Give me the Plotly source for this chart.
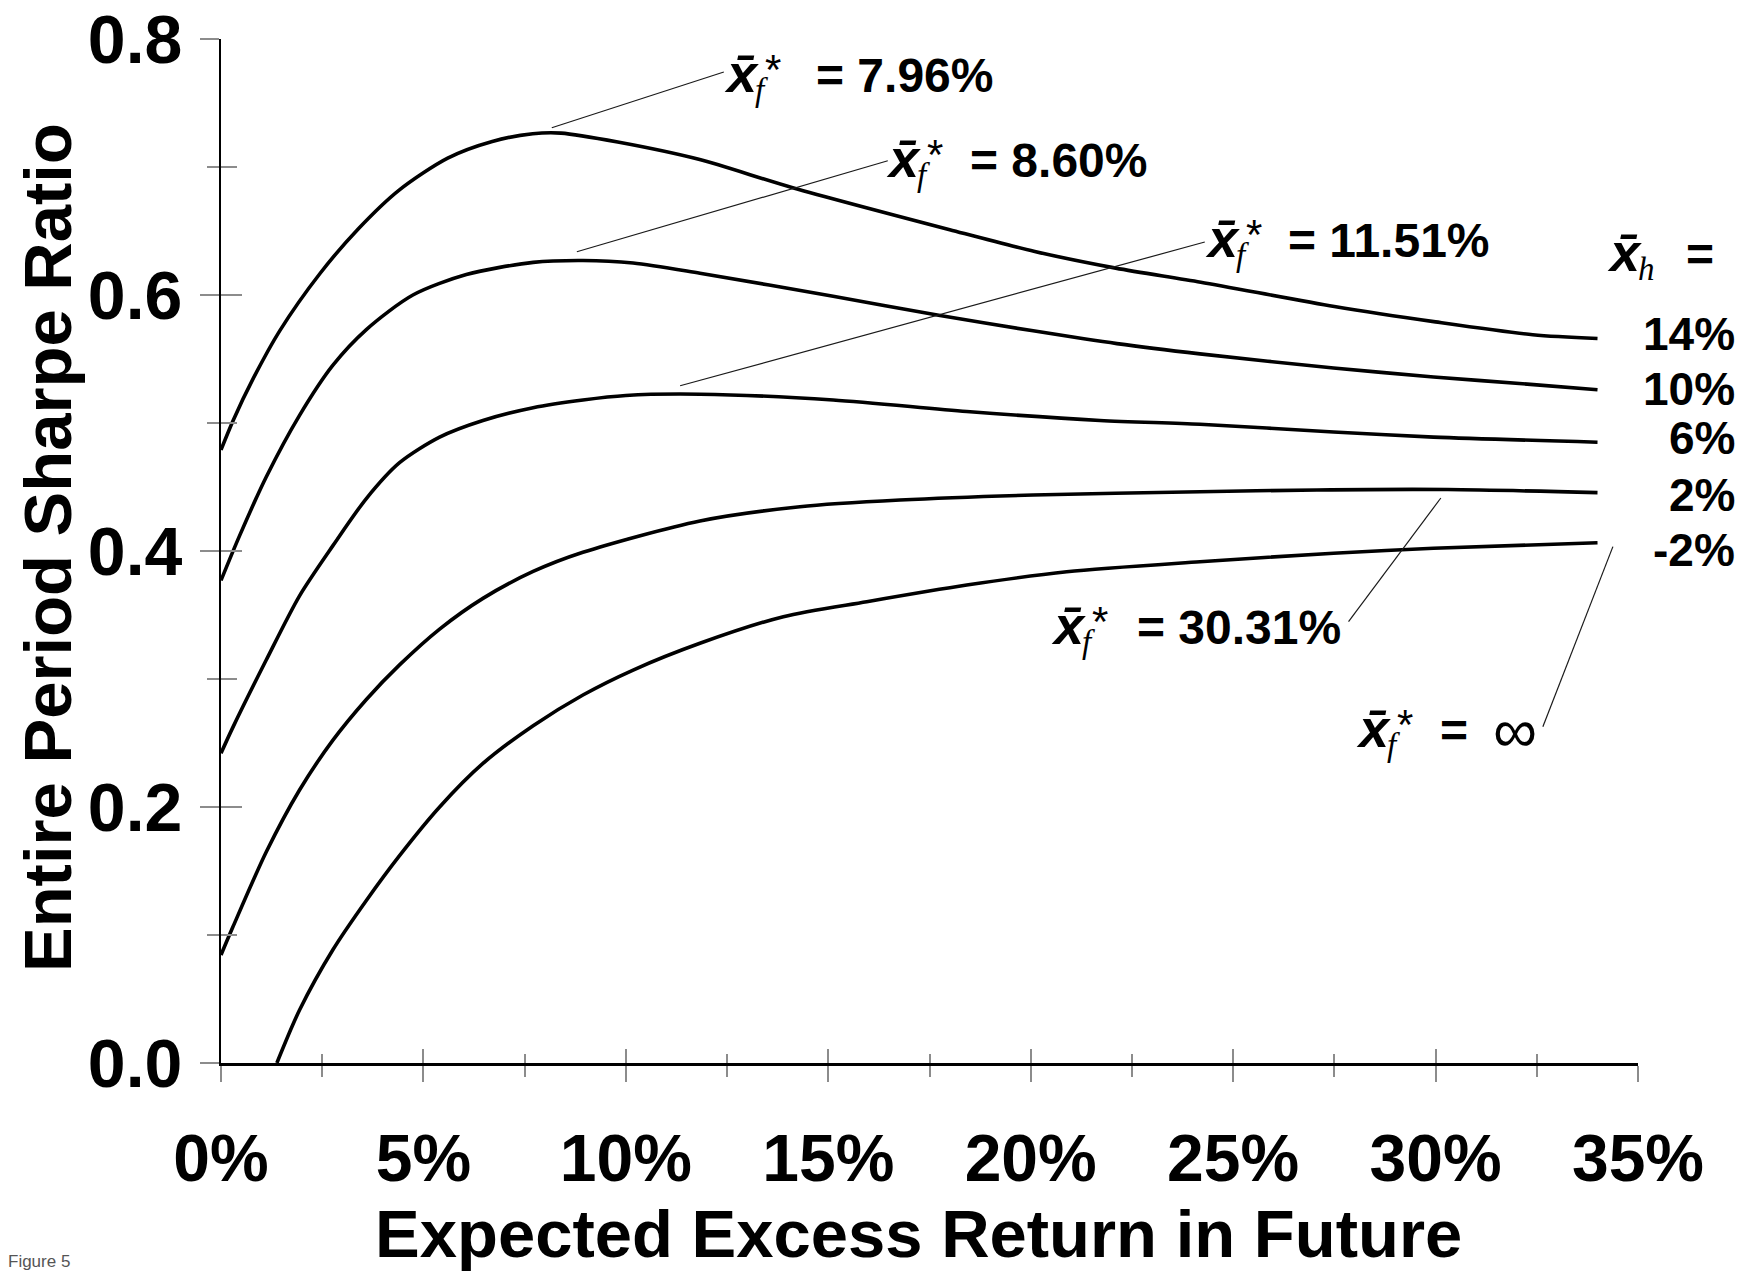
import plotly.graph_objects as go

# Historical mean excess return (x̄_h, %) labelling each curve
hist_means = [14, 10, 6, 2, -2]

# Expected excess return in future (%) and entire-period Sharpe ratio, one pair per curve
x_h14 = [0, 0.3, 0.8, 1.45, 2.45, 3.4, 4.4, 5.6, 6.7, 7.7, 8.4, 9.8, 11.8, 14.1, 18.0, 20.1, 22.1, 24.2, 27.5, 30.0, 32.4, 34.0]
sr_h14 = [0.479, 0.502, 0.535, 0.572, 0.617, 0.652, 0.682, 0.707, 0.720, 0.726, 0.7265, 0.7195, 0.706, 0.684, 0.651, 0.634, 0.621, 0.610, 0.591, 0.579, 0.569, 0.566]

x_h10 = [0, 0.46, 1.12, 1.94, 2.76, 3.59, 4.74, 6.06, 7.71, 8.94, 10.18, 11.83, 15.12, 17.76, 20.06, 22.13, 24.18, 27.48, 29.95, 32.42, 34.0]
sr_h10 = [0.377, 0.412, 0.458, 0.506, 0.545, 0.573, 0.600, 0.616, 0.6255, 0.627, 0.625, 0.617, 0.599, 0.584, 0.572, 0.562, 0.554, 0.543, 0.536, 0.530, 0.526]

x_h6 = [0, 0.29, 1.12, 1.94, 2.76, 3.59, 4.41, 5.40, 6.47, 7.71, 8.94, 10.0, 11.83, 15.12, 18.42, 21.71, 24.18, 27.48, 29.95, 34.0]
sr_h6 = [0.242, 0.262, 0.315, 0.365, 0.404, 0.441, 0.469, 0.489, 0.502, 0.512, 0.518, 0.5215, 0.5225, 0.518, 0.509, 0.502, 0.499, 0.493, 0.489, 0.485]

x_h2 = [0, 0.29, 1.12, 1.94, 2.76, 3.59, 4.41, 5.40, 6.47, 7.71, 8.94, 11.83, 14.3, 16.77, 20.06, 24.18, 27.07, 30.3, 34.0]
sr_h2 = [0.0844, 0.106, 0.165, 0.2133, 0.252, 0.284, 0.311, 0.339, 0.363, 0.384, 0.399, 0.4235, 0.4346, 0.4398, 0.4437, 0.4463, 0.4477, 0.448, 0.4456]

x_hm2 = [1.38, 1.94, 2.76, 3.59, 4.41, 5.40, 6.47, 7.71, 8.94, 10.18, 11.83, 13.89, 15.95, 18.42, 20.89, 24.18, 27.48, 29.95, 34.0]
sr_hm2 = [0.0, 0.0414, 0.0883, 0.127, 0.162, 0.200, 0.234, 0.2635, 0.2875, 0.307, 0.3279, 0.3487, 0.3604, 0.3734, 0.3838, 0.3916, 0.3982, 0.4021, 0.4065]

curves_x = [x_h14, x_h10, x_h6, x_h2, x_hm2]
curves_y = [sr_h14, sr_h10, sr_h6, sr_h2, sr_hm2]

# Optimal future mean (x̄_f*) for each curve, with callout leader lines (data units)
optimum_text = ["7.96%", "8.60%", "11.51%", "30.31%", "\u221e"]
leader_x0 = [8.17, 8.79, 11.34, 30.13, 34.38]
leader_y0 = [0.7307, 0.6338, 0.5291, 0.4414, 0.4034]
leader_x1 = [12.42, 16.47, 24.30, 27.85, 32.65]
leader_y1 = [0.7742, 0.7049, 0.6414, 0.3448, 0.2627]

x_ticks = [0, 5, 10, 15, 20, 25, 30, 35]
y_ticks = [0.0, 0.2, 0.4, 0.6, 0.8]

SANS = "Liberation Sans, Arial, Helvetica, sans-serif"
SERIF = "Liberation Serif, Times New Roman, serif"
TICK_GREY = "#8c8c8c"

W, H = 1754, 1274
L, R, T, B = 221, 1638, 39, 1063
PW, PH = R - L, B - T


def px(X):
    return (X - L) / PW


def py(Y):
    return (B - Y) / PH


fig = go.Figure()

for xs, ys in zip(curves_x, curves_y):
    fig.add_trace(go.Scatter(
        x=xs, y=ys, mode="lines",
        line=dict(color="black", width=3.6, shape="spline", smoothing=0.8),
        showlegend=False, hoverinfo="skip",
    ))

# empty traces that bring up the overlay axes carrying the inner halves of the ticks
fig.add_trace(go.Scatter(x=[None], y=[None], xaxis="x2", yaxis="y", showlegend=False, hoverinfo="skip"))
fig.add_trace(go.Scatter(x=[None], y=[None], xaxis="x", yaxis="y2", showlegend=False, hoverinfo="skip"))

for x0, y0, x1, y1 in zip(leader_x0, leader_y0, leader_x1, leader_y1):
    fig.add_shape(type="line", xref="x", yref="y", x0=x0, y0=y0, x1=x1, y1=y1,
                  line=dict(color="#1a1a1a", width=1.2), layer="above")

annotations = []


def add_text(X, Y, text, size, family=SANS, weight="normal", style="normal", anchor="left"):
    annotations.append(dict(
        xref="paper", yref="paper", x=px(X), y=py(Y), text=text, showarrow=False,
        xanchor=anchor, yanchor="middle",
        font=dict(family=family, size=size, color="black", weight=weight, style=style),
    ))


def xbar_symbol(X, Ymid, sub, star=True):
    """Bold italic x with an overbar, an italic subscript and an optional starred superscript."""
    add_text(X, Ymid - 2, "x\u0304", 54, weight="bold", style="italic")
    add_text(X + 31, Ymid + 15, sub, 33, family=SERIF, style="italic")
    if star:
        add_text(X + 41, Ymid - 6, "*", 42)


# x̄_f* = value callouts: x̄ position, line mid-height and "=" position (pixels)
callout_pos = [(722, 75, 814), (884, 160, 968), (1203, 240, 1286), (1049, 627, 1135), (1354, 730, 1438)]
for (X, Y, Xeq), val in zip(callout_pos, optimum_text):
    xbar_symbol(X, Y, "f")
    if val == "\u221e":
        add_text(Xeq, Y, "=", 48, weight="bold")
        add_text(Xeq + 53, Y, val, 62)
    else:
        add_text(Xeq, Y, f"= {val}", 48, weight="bold")

# x̄_h = header above the per-curve labels
xbar_symbol(1605, 254, "h", star=False)
add_text(1684, 254, "=", 48, weight="bold")

label_shift = [5, 1, 4, -2, -7]
for hm, ys, dy in zip(hist_means, curves_y, label_shift):
    annotations.append(dict(
        xref="paper", yref="y", x=px(1737), y=ys[-1], yshift=dy,
        text=f"{hm}%", showarrow=False, xanchor="right", yanchor="middle",
        font=dict(family=SANS, size=46, color="black", weight="bold"),
    ))

# axis titles
add_text(918, 1233, "Expected Excess Return in Future", 67, weight="bold", anchor="center")
annotations.append(dict(
    xref="paper", yref="paper", x=px(47), y=py(548), text="Entire Period Sharpe Ratio",
    showarrow=False, xanchor="center", yanchor="middle", textangle=-90,
    font=dict(family=SANS, size=67, color="black", weight="bold"),
))

annotations.append(dict(
    xref="paper", yref="paper", x=px(6), y=py(1261), text="Figure 5", showarrow=False,
    xanchor="left", yanchor="middle", font=dict(family=SANS, size=17, color="#555555"),
))

axis_common = dict(showgrid=False, zeroline=False, automargin=False)

fig.update_layout(
    template="none",
    width=W, height=H,
    margin=dict(l=L, r=W - R, t=T, b=H - B, pad=0, autoexpand=False),
    paper_bgcolor="white", plot_bgcolor="white",
    showlegend=False,
    annotations=annotations,
    xaxis=dict(
        range=[0, 35], tickvals=x_ticks, ticktext=[f"{v}%" for v in x_ticks],
        ticks="outside", ticklen=16, tickwidth=1.5, tickcolor=TICK_GREY,
        minor=dict(dtick=2.5, ticks="outside", ticklen=11, tickwidth=1.5, tickcolor=TICK_GREY),
        showline=True, linecolor="black", linewidth=3,
        tickfont=dict(family=SANS, size=66, color="black", weight="bold"),
        ticklabelstandoff=20,
        **axis_common,
    ),
    xaxis2=dict(
        overlaying="x", anchor="y", side="bottom", range=[0, 35], tickvals=x_ticks,
        ticks="inside", ticklen=14, tickwidth=1.5, tickcolor=TICK_GREY,
        minor=dict(dtick=2.5, ticks="inside", ticklen=9, tickwidth=1.5, tickcolor=TICK_GREY),
        showticklabels=False, showline=False, **axis_common,
    ),
    yaxis=dict(
        range=[0, 0.8], tickvals=y_ticks, ticktext=[f"{v:.1f}" for v in y_ticks],
        ticks="outside", ticklen=19, tickwidth=1.5, tickcolor=TICK_GREY,
        minor=dict(dtick=0.1, ticks="outside", ticklen=12, tickwidth=1.5, tickcolor=TICK_GREY),
        showline=True, linecolor="black", linewidth=2,
        tickfont=dict(family=SANS, size=68, color="black", weight="bold"),
        ticklabelstandoff=4,
        **axis_common,
    ),
    yaxis2=dict(
        overlaying="y", anchor="x", side="left", range=[0, 0.8], tickvals=y_ticks,
        ticks="inside", ticklen=21, tickwidth=1.5, tickcolor=TICK_GREY,
        minor=dict(dtick=0.1, ticks="inside", ticklen=16, tickwidth=1.5, tickcolor=TICK_GREY),
        showticklabels=False, showline=False, **axis_common,
    ),
)

fig.write_html("out.html")
